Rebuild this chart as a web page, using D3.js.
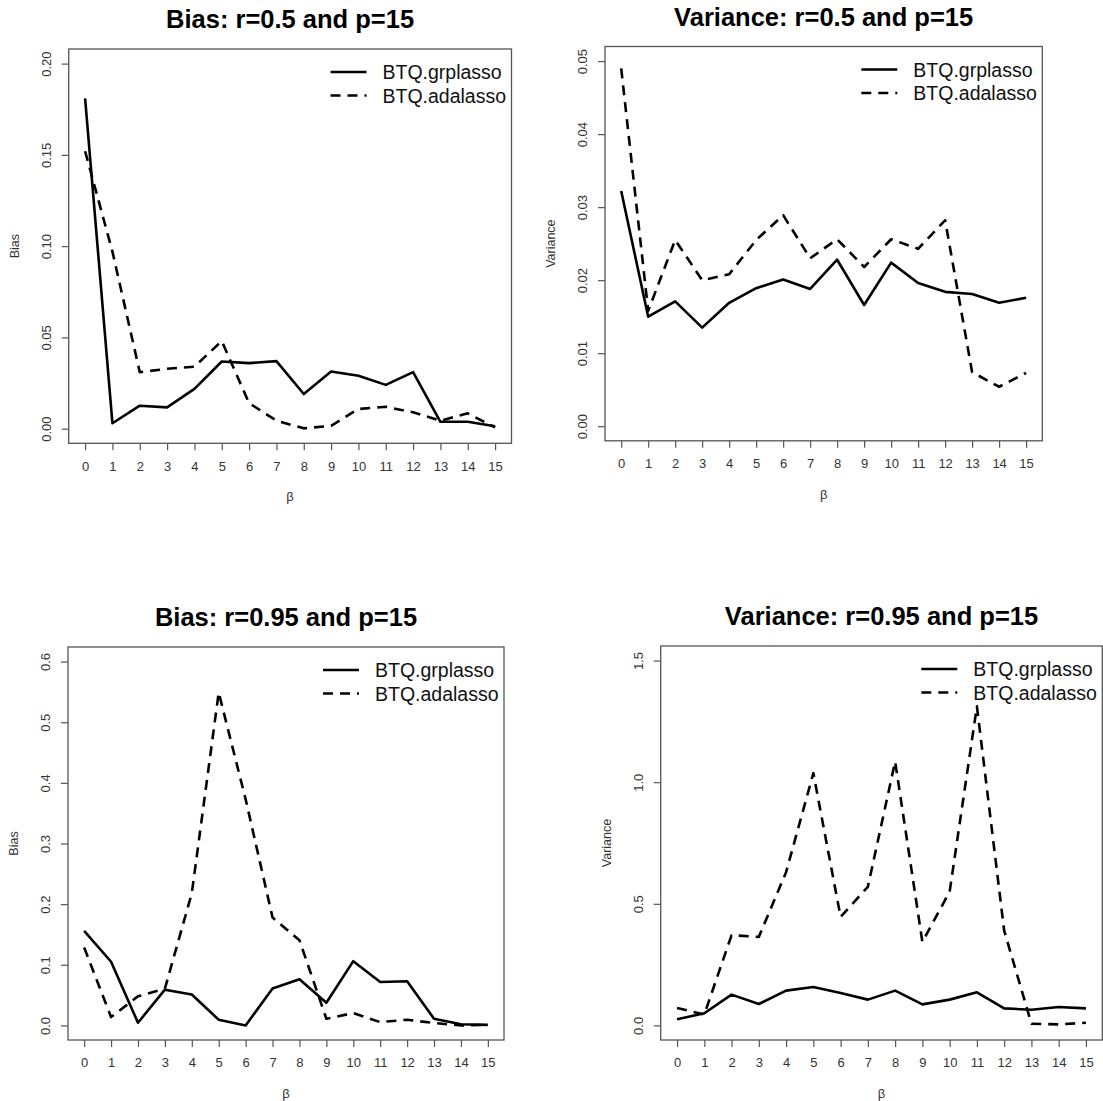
<!DOCTYPE html>
<html>
<head>
<meta charset="utf-8">
<script src="https://cdn.jsdelivr.net/npm/d3@7"></script>
<style>
  body { margin: 0; background: #fff; }
  svg { font-family: "Liberation Sans", Arial, sans-serif; }
</style>
</head>
<body>
<svg id="chart" width="1103" height="1101"></svg>
<script>
// beta values on the x axis
const betas = d3.range(0, 16);
const seriesNames = ["BTQ.grplasso", "BTQ.adalasso"];

// r = 0.5, bias
const biasLowGrp = [0.181, 0.003, 0.0126, 0.0117, 0.0218, 0.0368, 0.0359, 0.037,
  0.019, 0.0313, 0.029, 0.024, 0.031, 0.0038, 0.0038, 0.0013];
const biasLowAda = [0.152, 0.097, 0.031, 0.0328, 0.034, 0.048, 0.014, 0.0044,
  0.0002, 0.0016, 0.0108, 0.012, 0.009, 0.0044, 0.0084, 0.0007];

// r = 0.5, variance
const varLowGrp = [0.0322, 0.015, 0.0171, 0.0135, 0.0169, 0.0189, 0.0201, 0.0188,
  0.0228, 0.0166, 0.0224, 0.0196, 0.0184, 0.0181, 0.0169, 0.0176];
const varLowAda = [0.049, 0.0158, 0.0255, 0.020, 0.0208, 0.0255, 0.0289, 0.023,
  0.0256, 0.0218, 0.0256, 0.0243, 0.0282, 0.0074, 0.0054, 0.0073];

// r = 0.95, bias
const biasHighGrp = [0.156, 0.105, 0.0045, 0.059, 0.051, 0.0094, 0.0, 0.061,
  0.076, 0.0375, 0.106, 0.0717, 0.0728, 0.011, 0.002, 0.001];
const biasHighAda = [0.1285, 0.0138, 0.048, 0.0607, 0.218, 0.549, 0.373, 0.178,
  0.1406, 0.011, 0.0204, 0.0055, 0.0094, 0.004, 0.0, 0.001];

// r = 0.95, variance
const varHighGrp = [0.025, 0.05, 0.1265, 0.088, 0.143, 0.158, 0.133, 0.106,
  0.143, 0.0866, 0.106, 0.136, 0.07, 0.0646, 0.0755, 0.07];
const varHighAda = [0.0715, 0.045, 0.371, 0.364, 0.63, 1.037, 0.446, 0.57,
  1.085, 0.343, 0.55, 1.312, 0.39, 0.007, 0.004, 0.011];

const biasLowTicks = [0, 0.05, 0.10, 0.15, 0.20];
const varLowTicks = [0, 0.01, 0.02, 0.03, 0.04, 0.05];
const biasHighTicks = [0, 0.1, 0.2, 0.3, 0.4, 0.5, 0.6];
const varHighTicks = [0, 0.5, 1.0, 1.5];

const panels = [
  {title: "Bias: r=0.5 and p=15", ylab: "Bias", ymax: 0.2, ticks: biasLowTicks,
    fmt: d3.format(".2f"), series: [biasLowGrp, biasLowAda],
    box: {x0: 68.7, x1: 511.5, y0: 49, y1: 443.3}},
  {title: "Variance: r=0.5 and p=15", ylab: "Variance", ymax: 0.05,
    ticks: varLowTicks, fmt: d3.format(".2f"), series: [varLowGrp, varLowAda],
    box: {x0: 605, x1: 1042.3, y0: 46.5, y1: 440.8}},
  {title: "Bias: r=0.95 and p=15", ylab: "Bias", ymax: 0.6, ticks: biasHighTicks,
    fmt: d3.format(".1f"), series: [biasHighGrp, biasHighAda],
    box: {x0: 68, x1: 504, y0: 647, y1: 1040}},
  {title: "Variance: r=0.95 and p=15", ylab: "Variance", ymax: 1.5,
    ticks: varHighTicks, fmt: d3.format(".1f"), series: [varHighGrp, varHighAda],
    box: {x0: 660.7, x1: 1102.3, y0: 646, y1: 1040}},
];

const dashes = [null, "10,7"];
const axisColor = "#555";
const labelColor = "#333";

/**
 * Draws one R-style line plot with box, axes, legend and title.
 * @param {svg} svg The svg to draw into.
 * @param {object} p The panel settings.
 */
function drawPanel(svg, p) {
  const b = p.box;
  // R pads the axis ranges by 4% on both sides
  const xScale = d3.scaleLinear().domain([-0.6, 15.6]).range([b.x0, b.x1]);
  const pad = p.ymax * 0.04;
  const yScale = d3.scaleLinear().domain([-pad, p.ymax + pad]).range([b.y1, b.y0]);
  const g = svg.append("g");

  const xAxis = g.append("g")
      .attr("transform", "translate(0," + b.y1 + ")")
      .call(d3.axisBottom(xScale).tickValues(betas).tickSize(7).tickPadding(11)
          .tickFormat(d3.format("d")));
  const yAxis = g.append("g")
      .attr("transform", "translate(" + b.x0 + ",0)")
      .call(d3.axisLeft(yScale).tickValues(p.ticks).tickSize(7)
          .tickFormat(p.fmt));
  [xAxis, yAxis].forEach((a) => {
    a.select(".domain").remove();
    a.selectAll(".tick line").attr("stroke", axisColor).attr("stroke-width", 1.2);
    a.selectAll(".tick text").attr("fill", labelColor)
        .attr("font-size", 13).attr("font-family", null);
  });
  yAxis.selectAll(".tick text")
      .attr("x", null).attr("dy", null)
      .attr("text-anchor", "middle")
      .attr("transform", "translate(-18,0) rotate(-90)");

  g.append("rect")
      .attr("x", b.x0).attr("y", b.y0)
      .attr("width", b.x1 - b.x0).attr("height", b.y1 - b.y0)
      .attr("fill", "none").attr("stroke", axisColor).attr("stroke-width", 1.3);

  const line = d3.line()
      .x((d, i) => xScale(betas[i]))
      .y((d) => yScale(d));
  p.series.forEach((vals, k) => {
    g.append("path")
        .datum(vals)
        .attr("fill", "none")
        .attr("stroke", "#000")
        .attr("stroke-width", 2.6)
        .attr("stroke-linejoin", "round")
        .attr("stroke-dasharray", dashes[k])
        .attr("d", line);
  });

  // legend, top right without frame
  seriesNames.forEach((name, k) => {
    const y = b.y0 + 23 + k * 23.5;
    g.append("line")
        .attr("x1", b.x1 - 181).attr("x2", b.x1 - 145)
        .attr("y1", y).attr("y2", y)
        .attr("stroke", "#000").attr("stroke-width", 2.6)
        .attr("stroke-dasharray", dashes[k]);
    g.append("text")
        .attr("x", b.x1 - 129).attr("y", y + 7)
        .attr("font-size", 19.5).attr("fill", "#111")
        .text(name);
  });

  g.append("text")
      .attr("x", (b.x0 + b.x1) / 2).attr("y", b.y0 - 21)
      .attr("text-anchor", "middle")
      .attr("font-size", 25.5).attr("font-weight", "bold")
      .text(p.title);

  g.append("text")
      .attr("x", (b.x0 + b.x1) / 2).attr("y", b.y1 + 58)
      .attr("text-anchor", "middle")
      .attr("font-size", 13).attr("fill", labelColor)
      .text("β");

  g.append("text")
      .attr("transform", "translate(" + (b.x0 - 50) + "," +
          ((b.y0 + b.y1) / 2) + ") rotate(-90)")
      .attr("text-anchor", "middle")
      .attr("font-size", 12.5).attr("fill", labelColor)
      .text(p.ylab);
}

const svg = d3.select("svg#chart");
panels.forEach((p) => drawPanel(svg, p));
</script>
</body>
</html>
